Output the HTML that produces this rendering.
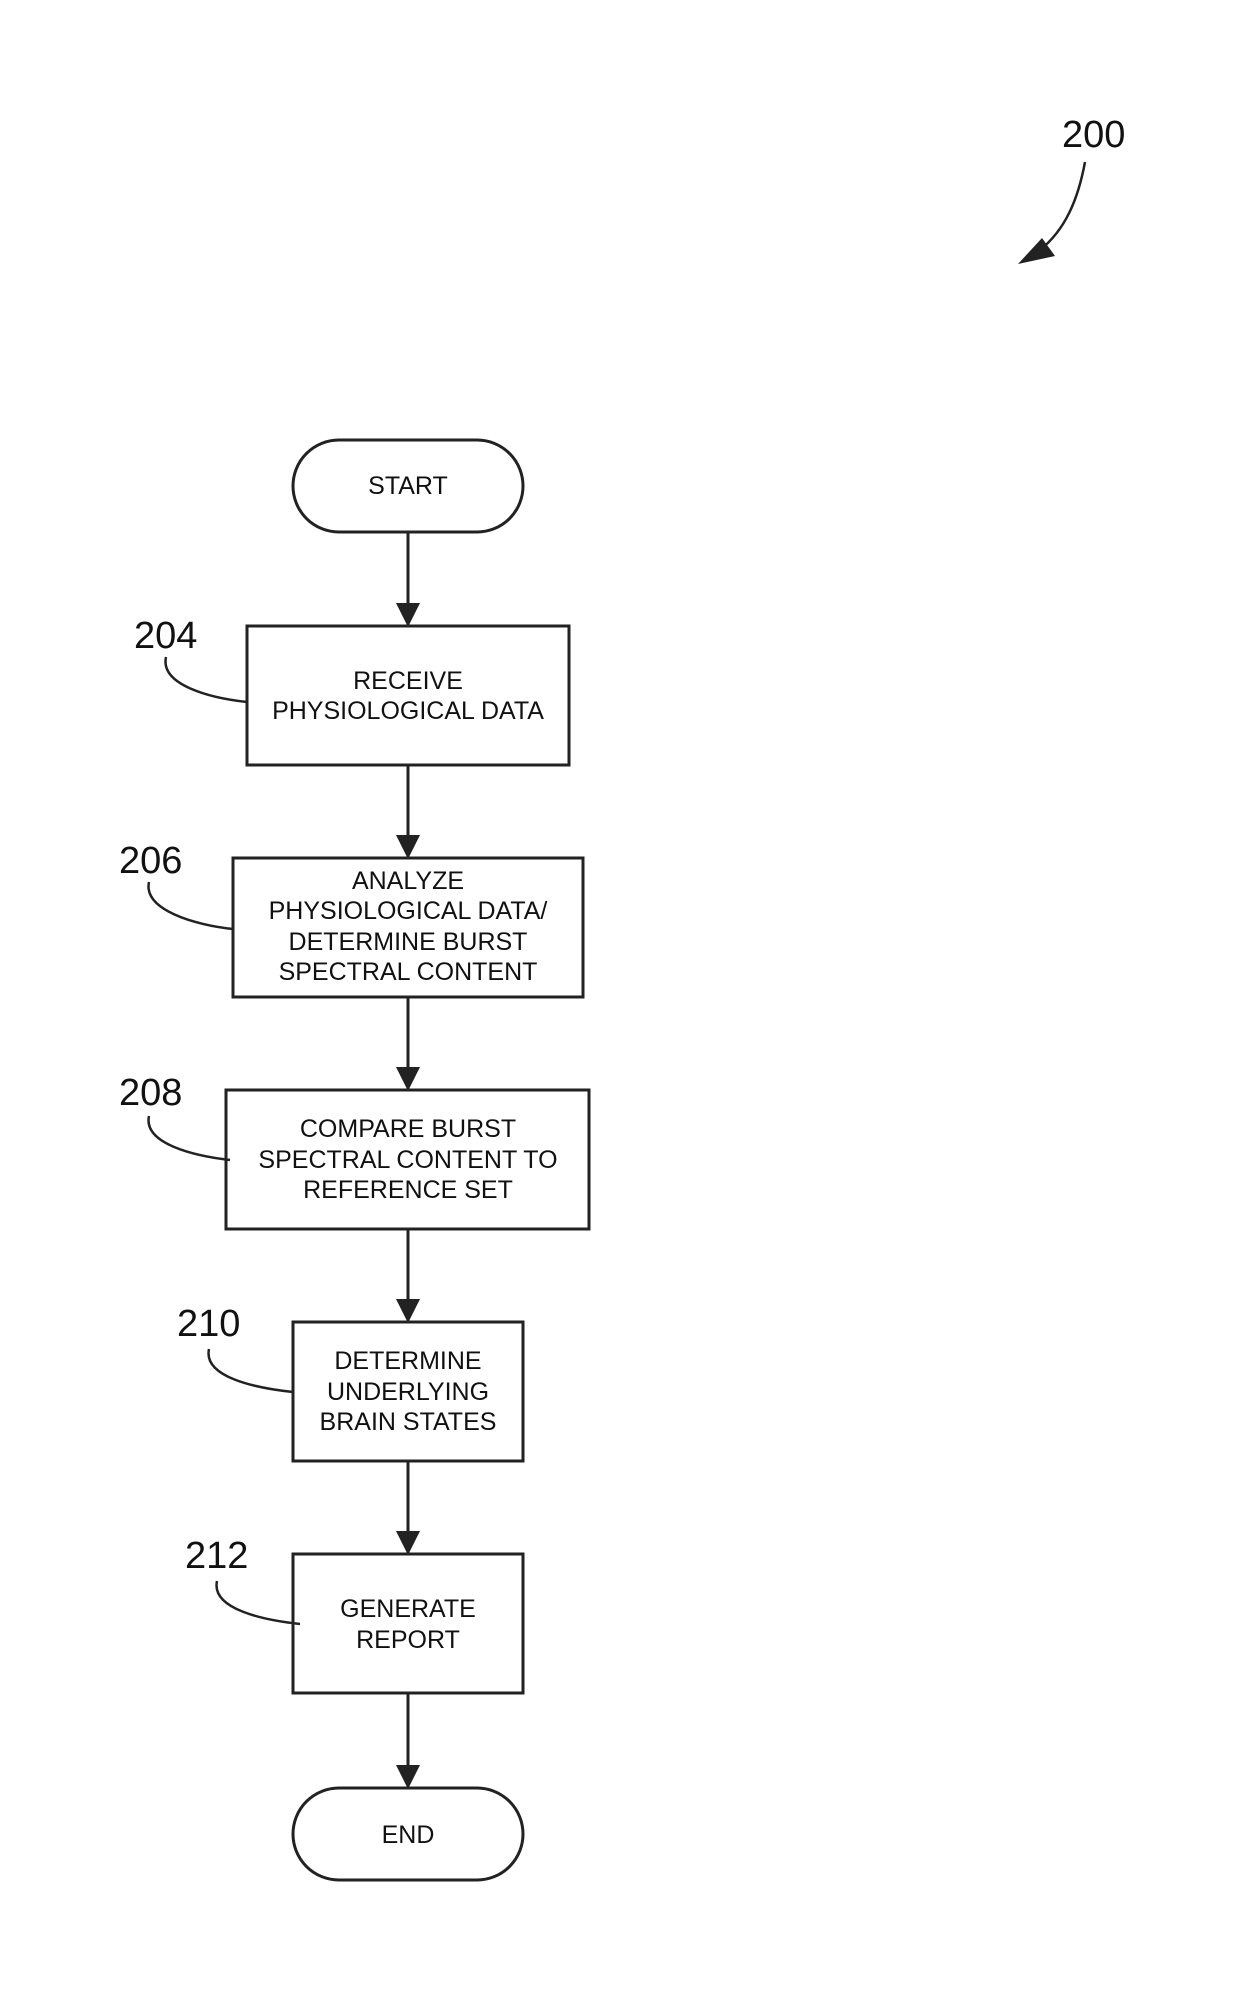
<!DOCTYPE html>
<html><head><meta charset="utf-8"><style>
html,body{margin:0;padding:0;background:#fff;}
svg{display:block;}
text{font-family:"Liberation Sans",Arial,sans-serif;fill:#111;}
.b{font-size:25px;text-anchor:middle;}
.n{font-size:38px;}
</style></head><body>
<svg width="1240" height="2000" viewBox="0 0 1240 2000" xmlns="http://www.w3.org/2000/svg">
<defs><marker id="a" markerWidth="8" markerHeight="8" refX="7" refY="4" orient="auto" markerUnits="strokeWidth"><path d="M0,0 L8,4 L0,8 z" fill="#222"/></marker></defs>
<g fill="none" stroke="#222" stroke-width="3">
<rect x="293" y="440" width="230" height="92" rx="46"/>
<rect x="247" y="626" width="322" height="139"/>
<rect x="233" y="858" width="350" height="139"/>
<rect x="226" y="1090" width="363" height="139"/>
<rect x="293" y="1322" width="230" height="139"/>
<rect x="293" y="1554" width="230" height="139"/>
<rect x="293" y="1788" width="230" height="92" rx="46"/>
<line x1="408" y1="532" x2="408" y2="624" marker-end="url(#a)"/>
<line x1="408" y1="765" x2="408" y2="856" marker-end="url(#a)"/>
<line x1="408" y1="997" x2="408" y2="1088" marker-end="url(#a)"/>
<line x1="408" y1="1229" x2="408" y2="1320" marker-end="url(#a)"/>
<line x1="408" y1="1461" x2="408" y2="1552" marker-end="url(#a)"/>
<line x1="408" y1="1693" x2="408" y2="1786" marker-end="url(#a)"/>
<path d="M166,657 C160,685 210,698 247,702" stroke-width="2.5"/>
<path d="M149,882 C143,910 195,925 233,929" stroke-width="2.5"/>
<path d="M149,1116 C143,1144 195,1156 230,1160" stroke-width="2.5"/>
<path d="M209,1349 C203,1377 255,1388 293,1392" stroke-width="2.5"/>
<path d="M217,1581 C211,1609 263,1620 300,1624" stroke-width="2.5"/>
<path d="M1085,162 C1078,200 1065,230 1040,250" stroke-width="2.5"/>
</g>
<path d="M1018,264 L1042,238 L1055,256 z" fill="#222"/>
<text class="n" x="1062" y="147">200</text>
<text class="n" x="134" y="648">204</text>
<text class="n" x="119" y="873">206</text>
<text class="n" x="119" y="1105">208</text>
<text class="n" x="177" y="1336">210</text>
<text class="n" x="185" y="1568">212</text>
<text class="b" x="408" y="494">START</text>
<text class="b" x="408" y="689">RECEIVE</text>
<text class="b" x="408" y="719">PHYSIOLOGICAL DATA</text>
<text class="b" x="408" y="889">ANALYZE</text>
<text class="b" x="408" y="919">PHYSIOLOGICAL DATA/</text>
<text class="b" x="408" y="950">DETERMINE BURST</text>
<text class="b" x="408" y="980">SPECTRAL CONTENT</text>
<text class="b" x="408" y="1137">COMPARE BURST</text>
<text class="b" x="408" y="1168">SPECTRAL CONTENT TO</text>
<text class="b" x="408" y="1198">REFERENCE SET</text>
<text class="b" x="408" y="1369">DETERMINE</text>
<text class="b" x="408" y="1400">UNDERLYING</text>
<text class="b" x="408" y="1430">BRAIN STATES</text>
<text class="b" x="408" y="1617">GENERATE</text>
<text class="b" x="408" y="1648">REPORT</text>
<text class="b" x="408" y="1843">END</text>
</svg>
</body></html>
